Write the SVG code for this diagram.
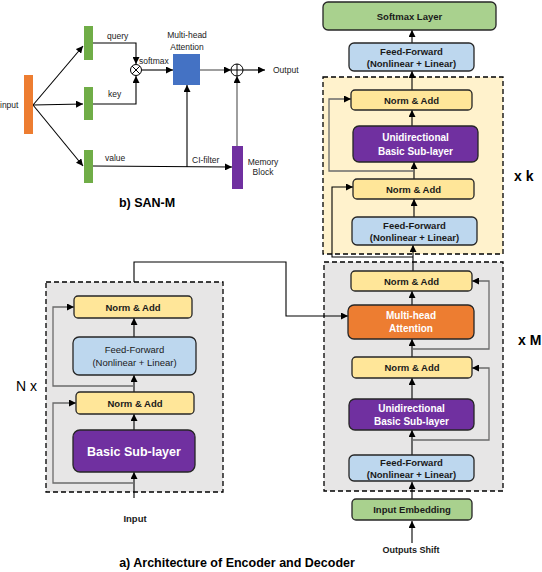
<svg xmlns="http://www.w3.org/2000/svg" width="542" height="572" viewBox="0 0 542 572">
<defs>
<marker id="ah" viewBox="0 0 10 10" refX="10" refY="5" markerWidth="7" markerHeight="7" markerUnits="userSpaceOnUse" orient="auto">
<path d="M0,0 L10,5 L0,10 z" fill="#000"/>
</marker>
</defs>
<style>
text{font-family:"Liberation Sans",Arial,sans-serif;}
.box{stroke:#262626;stroke-width:1.3;}
.norm{fill:#FFE699;}
.ff{fill:#BDD7EE;}
.pur{fill:#7030A0;}
.org{fill:#ED7D31;}
.grn{fill:#A9D18E;}
.lbl{font-size:9.5px;font-weight:bold;fill:#1a1a1a;text-anchor:middle;}
.wl{font-size:10px;font-weight:bold;fill:#fff;text-anchor:middle;}
.sm{font-size:8.5px;fill:#222;}
.c{fill:none;stroke:#000;stroke-width:1.1;}
.cg{fill:none;stroke:#6b6b6b;stroke-width:1.3;}
.a{marker-end:url(#ah);}
.big{font-size:14px;font-weight:bold;fill:#000;}
</style>

<!-- containers -->
<g id="decoder-k-container">
<rect x="323" y="77" width="180" height="177" fill="#FFF2CC" stroke="#000" stroke-width="1.3" stroke-dasharray="5,3"/>
</g>
<g id="decoder-m-container">
<rect x="324" y="262" width="179" height="229" fill="#E7E6E6" stroke="#000" stroke-width="1.3" stroke-dasharray="5,3"/>
</g>
<g id="encoder-container">
<rect x="46" y="282" width="177" height="210" fill="#E7E6E6" stroke="#000" stroke-width="1.3" stroke-dasharray="5,3"/>
</g>

<!-- connectors -->
<g id="connectors">
<!-- SAN-M -->
<line class="c a" x1="33" y1="105" x2="83" y2="46"/>
<line class="c a" x1="33" y1="105" x2="83" y2="104"/>
<line class="c a" x1="33" y1="105" x2="83" y2="166"/>
<polyline class="c a" points="93,43 136,43 136,64"/>
<polyline class="c a" points="93,104 136,104 136,76"/>
<line class="c a" x1="142" y1="70" x2="173" y2="70"/>
<line class="cg a" x1="200" y1="70" x2="231" y2="70"/>
<line class="c a" x1="243" y1="70" x2="265" y2="70"/>
<line class="c a" x1="93" y1="166" x2="232" y2="167"/>
<line class="c a" x1="187" y1="167" x2="187" y2="85"/>
<line class="cg a" x1="237" y1="146" x2="237" y2="76"/>

<!-- decoder top -->
<line class="c a" x1="412" y1="43" x2="412" y2="30"/>
<line class="c a" x1="412" y1="90" x2="412" y2="71"/>
<line class="c a" x1="412" y1="126" x2="412" y2="110"/>
<line class="c a" x1="414" y1="179" x2="414" y2="162"/>
<line class="c a" x1="414" y1="217" x2="414" y2="199"/>
<polyline class="cg a" points="414,171 329,171 329,99 351,99"/>
<polyline class="c a" points="413,257 332,257 332,187 353,187"/>
<line class="c a" x1="413" y1="271" x2="413" y2="245"/>

<!-- decoder bottom -->
<line class="c a" x1="412" y1="305" x2="412" y2="291"/>
<line class="c a" x1="412" y1="357" x2="412" y2="339"/>
<line class="c a" x1="412" y1="399" x2="412" y2="378"/>
<line class="c a" x1="412" y1="455" x2="412" y2="430"/>
<line class="c a" x1="412" y1="499" x2="412" y2="482"/>
<line class="c a" x1="412" y1="543" x2="412" y2="521"/>
<polyline class="cg a" points="412,349 489,349 489,281 472,281"/>
<polyline class="cg a" points="412,440 489,440 489,368 472,368"/>

<!-- encoder -->
<line class="c a" x1="134" y1="498" x2="134" y2="472"/>
<line class="c a" x1="134" y1="430" x2="134" y2="414"/>
<line class="c a" x1="134" y1="392" x2="134" y2="375"/>
<line class="c a" x1="134" y1="337" x2="134" y2="318"/>
<polyline class="cg a" points="134,483 53,483 53,403 76,403"/>
<polyline class="cg a" points="134,386 53,386 53,307 74,307"/>
<polyline class="c a" points="134,282 134,262 286,262 286,316 348,316"/>
</g>

<!-- SAN-M nodes -->
<g id="san-input">
<rect x="24" y="75" width="9" height="59" fill="#ED7D31"/>
<text class="sm" x="0" y="108">input</text>
</g>
<g id="san-query">
<rect x="84" y="26" width="9" height="34" fill="#70AD47"/>
<text class="sm" x="107" y="39">query</text>
</g>
<g id="san-key">
<rect x="84" y="87" width="9" height="33" fill="#70AD47"/>
<text class="sm" x="108" y="97">key</text>
</g>
<g id="san-value">
<rect x="84" y="150" width="9" height="33" fill="#70AD47"/>
<text class="sm" x="105" y="161">value</text>
</g>
<g id="san-mult">
<circle cx="136" cy="70" r="5.5" fill="#fff" stroke="#000" stroke-width="1"/>
<line x1="132.1" y1="66.1" x2="139.9" y2="73.9" stroke="#000" stroke-width="1"/>
<line x1="139.9" y1="66.1" x2="132.1" y2="73.9" stroke="#000" stroke-width="1"/>
<text class="sm" x="139" y="64">softmax</text>
</g>
<g id="san-mha">
<rect x="173" y="54" width="27" height="31" fill="#4472C4"/>
<text class="sm" x="187" y="38" text-anchor="middle">Multi-head</text>
<text class="sm" x="187" y="50" text-anchor="middle">Attention</text>
</g>
<g id="san-plus">
<circle cx="237" cy="70" r="6" fill="#fff" stroke="#000" stroke-width="1"/>
<line x1="231" y1="70" x2="243" y2="70" stroke="#000" stroke-width="1"/>
<line x1="237" y1="64" x2="237" y2="76" stroke="#000" stroke-width="1"/>
<text class="sm" x="273" y="73">Output</text>
</g>
<g id="san-memory">
<rect x="232" y="146" width="11" height="43" fill="#7030A0"/>
<text class="sm" x="192" y="163">CI-filter</text>
<text class="sm" x="263" y="165" text-anchor="middle">Memory</text>
<text class="sm" x="263" y="175" text-anchor="middle">Block</text>
</g>
<text x="147" y="207" text-anchor="middle" style="font-size:12.5px;font-weight:bold;fill:#000">b) SAN-M</text>

<!-- decoder nodes -->
<g id="softmax-layer">
<rect class="box grn" x="323" y="2" width="173" height="28" rx="5"/>
<text class="lbl" x="409.5" y="19.5">Softmax Layer</text>
</g>
<g id="ff-top">
<rect class="box ff" x="349" y="43" width="125" height="28" rx="5"/>
<text class="lbl" x="411.5" y="55">Feed-Forward</text>
<text class="lbl" x="411.5" y="67">(Nonlinear + Linear)</text>
</g>
<g id="norm-k2">
<rect class="box norm" x="351" y="90" width="121" height="20" rx="4"/>
<text class="lbl" x="411.5" y="103.5">Norm &amp; Add</text>
</g>
<g id="uni-k">
<rect class="box pur" x="353" y="126" width="125" height="36" rx="6"/>
<text class="wl" x="415.5" y="141">Unidirectional</text>
<text class="wl" x="415.5" y="155">Basic Sub-layer</text>
</g>
<g id="norm-k1">
<rect class="box norm" x="353" y="179" width="121" height="20" rx="4"/>
<text class="lbl" x="413.5" y="192.5">Norm &amp; Add</text>
</g>
<g id="ff-k">
<rect class="box ff" x="352" y="217" width="125" height="28" rx="5"/>
<text class="lbl" x="414.5" y="229">Feed-Forward</text>
<text class="lbl" x="414.5" y="241">(Nonlinear + Linear)</text>
</g>
<text class="big" x="514" y="181">x k</text>

<g id="norm-m2">
<rect class="box norm" x="351" y="271" width="121" height="20" rx="4"/>
<text class="lbl" x="411.5" y="284.5">Norm &amp; Add</text>
</g>
<g id="mha-m">
<rect class="box org" x="348" y="305" width="126" height="34" rx="6"/>
<text class="wl" x="411" y="319">Multi-head</text>
<text class="wl" x="411" y="332">Attention</text>
</g>
<g id="norm-m1">
<rect class="box norm" x="352" y="357" width="120" height="21" rx="4"/>
<text class="lbl" x="412" y="371">Norm &amp; Add</text>
</g>
<g id="uni-m">
<rect class="box pur" x="349" y="399" width="125" height="31" rx="6"/>
<text class="wl" x="411.5" y="412">Unidirectional</text>
<text class="wl" x="411.5" y="425">Basic Sub-layer</text>
</g>
<g id="ff-m">
<rect class="box ff" x="349" y="455" width="125" height="26" rx="5"/>
<text class="lbl" x="411.5" y="466">Feed-Forward</text>
<text class="lbl" x="411.5" y="478">(Nonlinear + Linear)</text>
</g>
<text class="big" x="518" y="345">x M</text>
<g id="input-embedding">
<rect class="box grn" x="352" y="499" width="120" height="21" rx="4"/>
<text class="lbl" x="412" y="513">Input Embedding</text>
</g>
<text class="lbl" x="411" y="553" style="font-size:9px">Outputs Shift</text>

<!-- encoder nodes -->
<g id="enc-norm2">
<rect class="box norm" x="74" y="296" width="118" height="22" rx="4"/>
<text class="lbl" x="133" y="310.5">Norm &amp; Add</text>
</g>
<g id="enc-ff">
<rect class="box ff" x="73" y="337" width="123" height="38" rx="6"/>
<text x="134.5" y="353" style="font-size:9.5px;fill:#1a1a1a;text-anchor:middle">Feed-Forward</text>
<text x="134.5" y="366" style="font-size:9.5px;fill:#1a1a1a;text-anchor:middle">(Nonlinear + Linear)</text>
</g>
<g id="enc-norm1">
<rect class="box norm" x="76" y="392" width="118" height="22" rx="4"/>
<text class="lbl" x="135" y="406.5">Norm &amp; Add</text>
</g>
<g id="enc-basic">
<rect class="box pur" x="73" y="430" width="122" height="42" rx="7"/>
<text class="wl" x="134" y="456" style="font-size:12.5px">Basic Sub-layer</text>
</g>
<text x="16" y="391" style="font-size:14px;fill:#000">N x</text>
<text class="lbl" x="135" y="522">Input</text>
<text x="237" y="567" text-anchor="middle" style="font-size:12.5px;font-weight:bold;fill:#000">a) Architecture of Encoder and Decoder</text>
</svg>
